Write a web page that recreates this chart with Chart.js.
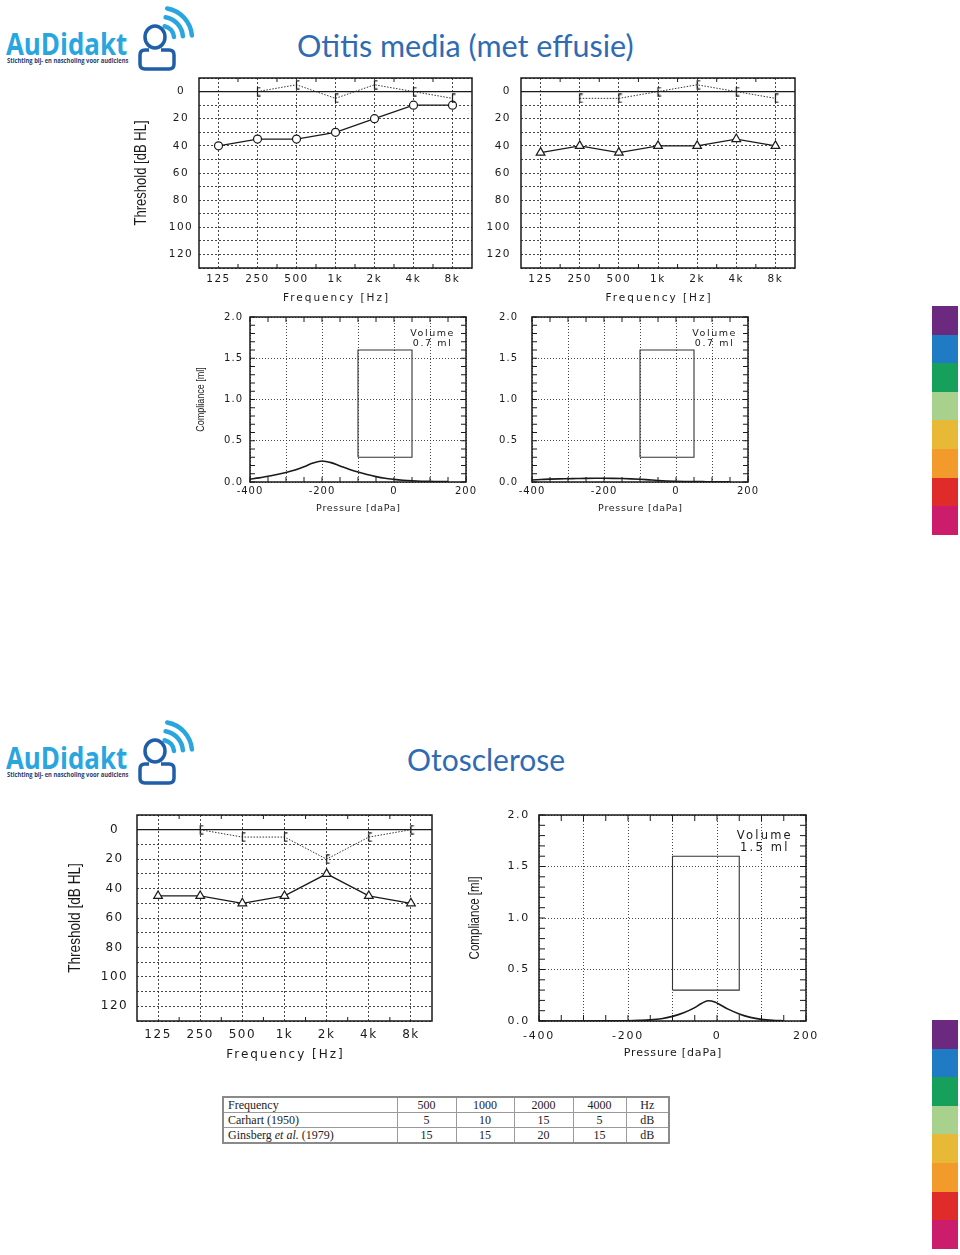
<!DOCTYPE html>
<html>
<head>
<meta charset="utf-8">
<script src="https://cdn.jsdelivr.net/npm/chart.js@4.4.0/dist/chart.umd.min.js"></script>
<style>
html, body { margin: 0; padding: 0; background: #fff; }
#page { position: relative; width: 960px; height: 1255px; overflow: hidden; }
#page canvas { position: absolute; }
.logo { position: absolute; left: 0; width: 200px; height: 75px; }
.logo .brand { position: absolute; left: 6px; top: 28px; font-family: 'Open Sans', sans-serif; font-weight: bold;
  font-size: 31px; line-height: 31px; color: #2aa6df; transform: scaleX(0.835); transform-origin: left top; white-space: nowrap; }
.logo .tag { position: absolute; left: 7px; top: 57px; font-family: 'Open Sans', sans-serif; font-weight: bold;
  font-size: 6.3px; line-height: 7px; color: #1d3c70; white-space: nowrap; transform: scaleX(0.92); transform-origin: left top; }
.logo svg { position: absolute; left: 0; top: 0; }
.slideTitle { position: absolute; font-family: Lato, 'Open Sans', sans-serif; color: #2f6bb3; font-size: 30.5px; line-height: 36px; white-space: nowrap; }
.bars { position: absolute; left: 932px; width: 26px; }
.bars div { height: 28.6px; }
#tbl { position: absolute; left: 222px; top: 1096px; width: 446px; table-layout: fixed; border-collapse: collapse; border: 2px solid #8a8a8a;
  font-family: 'Liberation Serif', serif; font-size: 12px; color: #222; }
#tbl td { box-sizing: border-box; border: 1px solid #9a9a9a; padding: 1px 4px 0 4px; height: 14.5px; line-height: 13px; text-align: center; overflow: hidden; white-space: nowrap; }
#tbl td:first-child { text-align: left; }
</style>
</head>
<body>
<div id="page">
  <div class="logo" id="logo1" style="top:0px"></div>
  <div class="slideTitle" style="left:297px; top:27px;">Otitis media (met effusie)</div>
  <div class="logo" id="logo2" style="top:714px"></div>
  <div class="slideTitle" style="left:407px; top:741px; font-size:30px;">Otosclerose</div>
  <div class="bars" id="bars1" style="top:306px"></div>
  <div class="bars" id="bars2" style="top:1020px"></div>
  <table id="tbl"></table>
</div>
<script>
// audiogram data (dB HL) – frequencies 125 Hz .. 8 kHz
const freqLabels = ['125', '250', '500', '1k', '2k', '4k', '8k'];
const hlLabels = [0, 20, 40, 60, 80, 100, 120];

// Otitis media: left ear (circles) and right ear (triangles)
const omLeftAir = [40, 35, 35, 30, 20, 10, 10];
const omLeftBone = [null, 0, -5, 5, -5, 0, 5];
const omRightAir = [45, 40, 45, 40, 40, 35, 40];
const omRightBone = [null, 5, 5, 0, -5, 0, 5];

// Otosclerose
const otoAir = [45, 45, 50, 45, 30, 45, 50];
const otoBone = [null, 0, 5, 5, 20, 5, 0];

// tympanograms (pressure daPa, compliance ml)
const pressureLabels = [-400, -200, 0, 200];
const complianceLabels = [0, 0.5, 1, 1.5, 2];
const omPressure = [-400, -375, -350, -325, -300, -275, -250, -225, -200, -175, -150, -125, -100, -75, -50, -25, 0, 25, 50, 75, 100, 125, 150];
const omLeftCompliance = [0.035, 0.05, 0.07, 0.09, 0.115, 0.145, 0.185, 0.23, 0.255, 0.235, 0.195, 0.155, 0.12, 0.09, 0.065, 0.045, 0.032, 0.022, 0.015, 0.01, 0.008, 0.005, 0.004];
const omRightCompliance = [0.025, 0.03, 0.035, 0.038, 0.04, 0.042, 0.044, 0.045, 0.045, 0.044, 0.042, 0.038, 0.033, 0.026, 0.019, 0.013, 0.009, 0.006, 0.005, 0.004, 0.003, 0.003, 0.002];
const otoPressure = [-400, -300, -250, -200, -175, -150, -125, -100, -75, -50, -35, -20, -5, 10, 25, 50, 75, 100, 125, 150];
const otoCompliance = [0, 0, 0.001, 0.003, 0.006, 0.011, 0.022, 0.045, 0.08, 0.13, 0.17, 0.197, 0.185, 0.15, 0.115, 0.068, 0.035, 0.016, 0.007, 0.003];
const normPressure = [-100, -100, 50, 50, -100];
const normCompliance = [0.3, 1.6, 1.6, 0.3, 0.3];
const volumes = [0.7, 0.7, 1.5];

// air-bone gap table
const tableFreqs = [500, 1000, 2000, 4000];
const carhart = [5, 10, 15, 5];
const ginsberg = [15, 15, 20, 15];

const stripeColors = ['#6b2a7f', '#1f7cc4', '#17a05b', '#a7d18c', '#e8b936', '#f29a2b', '#df2b2a', '#cc1c6c'];

const ink = '#1a1a1a';
const page = document.getElementById('page');

// ---------- decorations ----------
const logoHtml =
  '<svg width="200" height="75" viewBox="0 0 200 75">' +
  '<path d="M167.2 8.5 A30 30 0 0 1 191.9 35.4" fill="none" stroke="#2aa6df" stroke-width="4.5" stroke-linecap="round"/>' +
  '<path d="M165.6 17.3 A21 21 0 0 1 182.9 36.2" fill="none" stroke="#2aa6df" stroke-width="4.5" stroke-linecap="round"/>' +
  '<path d="M164.6 26.2 A12 12 0 0 1 174 37" fill="none" stroke="#2aa6df" stroke-width="4.5" stroke-linecap="round"/>' +
  '<ellipse cx="155" cy="37" rx="10" ry="11" fill="#fff" stroke="#1f5ea8" stroke-width="3.5"/>' +
  '<path d="M149 50 L145 50 Q140 50 140 55 L140 64 Q140 69 145 69 L169 69 Q174 69 174 64 L174 55 Q174 50 169 50 L161 50" fill="none" stroke="#1f5ea8" stroke-width="3.5" stroke-linejoin="round"/>' +
  '</svg>' +
  '<div class="brand">AuDidakt</div>' +
  '<div class="tag">Stichting bij- en nascholing voor audiciens</div>';
document.getElementById('logo1').innerHTML = logoHtml;
document.getElementById('logo2').innerHTML = logoHtml;

['bars1', 'bars2'].forEach(id => {
  const el = document.getElementById(id);
  stripeColors.forEach(c => {
    const d = document.createElement('div');
    d.style.background = c;
    el.appendChild(d);
  });
});

// table
const tbl = document.getElementById('tbl');
const colW = [174, 59, 58, 59, 53, 43];
function addRow(cells) {
  const tr = document.createElement('tr');
  cells.forEach((c, i) => {
    const td = document.createElement('td');
    td.innerHTML = c;
    td.style.width = colW[i] + 'px';
    tr.appendChild(td);
  });
  tbl.appendChild(tr);
}
addRow(['Frequency'].concat(tableFreqs.map(String), ['Hz']));
addRow(['Carhart (1950)'].concat(carhart.map(String), ['dB']));
addRow(['Ginsberg <i>et al.</i> (1979)'].concat(ginsberg.map(String), ['dB']));

// ---------- chart helpers ----------
function bracketMarker() {
  const c = document.createElement('canvas');
  c.width = 9; c.height = 10;
  const g = c.getContext('2d');
  g.strokeStyle = ink;
  g.lineWidth = 1.2;
  g.beginPath();
  g.moveTo(7.5, 0.8); g.lineTo(4.5, 0.8); g.lineTo(4.5, 9.2); g.lineTo(7.5, 9.2);
  g.stroke();
  return c;
}
const bracket = bracketMarker();

// draws frame, zero line, minor ticks, axis titles and volume note.
// y tick labels are drawn before the datasets (ticks.z 0), x tick labels after (ticks.z 1),
// so each axis can get its own letter spacing.
const paperPlugin = {
  id: 'paper',
  beforeDraw(chart, args, o) {
    chart.ctx.letterSpacing = (o.ySpacing || 0) + 'px';
  },
  beforeDatasetsDraw(chart, args, o) {
    const { ctx, chartArea: ar, scales: { x, y } } = chart;
    ctx.save();
    ctx.strokeStyle = ink;
    if (o.zeroLine) {
      const py = y.getPixelForValue(0);
      ctx.lineWidth = 1.2;
      ctx.beginPath(); ctx.moveTo(ar.left, py); ctx.lineTo(ar.right, py); ctx.stroke();
    }
    const L = o.tickLen || 5;
    const xs = [], ys = [];
    if (o.minorX === 'mid') {
      for (let i = 0; i < x.ticks.length - 1; i++) xs.push((x.getPixelForTick(i) + x.getPixelForTick(i + 1)) / 2);
    } else if (o.minorX) {
      for (let v = x.min; v <= x.max + 1e-6; v += o.minorX) xs.push(x.getPixelForValue(v));
    }
    if (o.minorY) {
      for (let v = y.min; v <= y.max + 1e-6; v += o.minorY) ys.push(y.getPixelForValue(v));
    }
    ctx.lineWidth = 1;
    ctx.beginPath();
    xs.forEach(px => { ctx.moveTo(px, ar.top); ctx.lineTo(px, ar.top + L); ctx.moveTo(px, ar.bottom); ctx.lineTo(px, ar.bottom - L); });
    ys.forEach(py => { ctx.moveTo(ar.left, py); ctx.lineTo(ar.left + L, py); ctx.moveTo(ar.right, py); ctx.lineTo(ar.right - L, py); });
    ctx.stroke();
    ctx.lineWidth = 1.5;
    ctx.strokeRect(ar.left, ar.top, ar.width, ar.height);
    ctx.restore();
  },
  afterDatasetsDraw(chart, args, o) {
    chart.ctx.letterSpacing = (o.xSpacing || 0) + 'px';
  },
  afterDraw(chart, args, o) {
    const { ctx, chartArea: ar, scales: { x, y } } = chart;
    ctx.save();
    ctx.fillStyle = ink;
    ctx.textAlign = 'center';
    ctx.textBaseline = 'middle';
    if (o.xTitle) {
      const t = o.xTitle;
      ctx.letterSpacing = t.spacing + 'px';
      ctx.font = t.size + "px 'DejaVu Sans'";
      ctx.fillText(t.text, (ar.left + ar.right) / 2 + t.spacing / 2, ar.bottom + t.offset);
    }
    if (o.yTitle) {
      const t = o.yTitle;
      ctx.save();
      ctx.letterSpacing = '0px';
      ctx.translate(ar.left - t.offset, (ar.top + ar.bottom) / 2);
      ctx.rotate(-Math.PI / 2);
      ctx.scale(0.82, 1);
      ctx.font = t.size + "px 'Liberation Sans'";
      ctx.fillText(t.text, 0, 0);
      ctx.restore();
    }
    if (o.note) {
      const n = o.note;
      ctx.letterSpacing = n.spacing + 'px';
      ctx.font = n.size + "px 'DejaVu Sans'";
      const px = x.getPixelForValue(n.x) + n.spacing / 2;
      const py = y.getPixelForValue(n.y);
      n.lines.forEach((s, i) => ctx.fillText(s, px, py + i * n.size * 1.05));
    }
    ctx.restore();
  }
};

function makeCanvas(box) {
  const c = document.createElement('canvas');
  c.width = box.w; c.height = box.h;
  c.style.left = box.x + 'px';
  c.style.top = box.y + 'px';
  page.appendChild(c);
  return c;
}

function fitLayout(box, area) {
  return {
    yWidth: area.l - box.x,
    xHeight: box.y + box.h - area.b,
    padding: { top: area.t - box.y, right: box.x + box.w - area.r, left: 0, bottom: 0 }
  };
}

function axisGrid(dash) {
  return {
    grid: { color: '#333', lineWidth: 0.9, drawTicks: false },
    border: { display: false, dash: dash }
  };
}

function audiogram(box, area, air, bone, marker, st) {
  const lay = fitLayout(box, area);
  return new Chart(makeCanvas(box), {
    type: 'line',
    data: {
      labels: freqLabels,
      datasets: [
        { data: bone, borderColor: '#333', borderWidth: 1, borderDash: [1.5, 1.5], pointStyle: bracket, pointRadius: 4, spanGaps: false, clip: false },
        { data: air, borderColor: ink, borderWidth: 1.3, pointStyle: marker, pointRadius: marker === 'triangle' ? 5 : 4,
          pointBackgroundColor: '#fff', pointBorderColor: ink, pointBorderWidth: 1.2, clip: false }
      ]
    },
    options: {
      responsive: false, animation: false, events: [],
      layout: { padding: lay.padding },
      plugins: {
        legend: { display: false }, tooltip: { enabled: false },
        paper: {
          ySpacing: st.ySpacing, xSpacing: st.xSpacing, zeroLine: true, minorX: 'mid', tickLen: 4,
          xTitle: { text: 'Frequency [Hz]', size: st.xTitleSize, spacing: st.xTitleSpacing, offset: st.xTitleOffset },
          yTitle: st.yTitleSize ? { text: 'Threshold [dB HL]', size: st.yTitleSize, offset: st.yTitleOffset } : null
        }
      },
      scales: {
        x: Object.assign(axisGrid([2, 2]), {
          type: 'category', offset: true,
          ticks: { z: 1, color: ink, font: { family: 'DejaVu Sans', size: st.xTickSize }, padding: st.xPad, maxRotation: 0, autoSkip: false },
          afterFit: s => { s.height = lay.xHeight; s.paddingLeft = 0; s.paddingRight = 0; }
        }),
        y: Object.assign(axisGrid([2, 2]), {
          type: 'linear', reverse: true, min: -10, max: 130,
          ticks: { stepSize: 10, autoSkip: false, color: ink, font: { family: 'DejaVu Sans', size: st.yTickSize },
            padding: st.yPad, crossAlign: st.yAlign, callback: v => hlLabels.includes(v) ? String(v) : '' },
          afterFit: s => { s.width = lay.yWidth; s.paddingTop = 0; s.paddingBottom = 0; }
        })
      }
    },
    plugins: [paperPlugin]
  });
}

function tympanogram(box, area, pressure, compliance, volume, st) {
  const lay = fitLayout(box, area);
  return new Chart(makeCanvas(box), {
    type: 'line',
    data: {
      datasets: [
        { data: normPressure.map((p, i) => ({ x: p, y: normCompliance[i] })), borderColor: '#333', borderWidth: 1.1, pointRadius: 0, tension: 0 },
        { data: pressure.map((p, i) => ({ x: p, y: compliance[i] })), borderColor: ink, borderWidth: 1.6, pointRadius: 0, cubicInterpolationMode: 'monotone' }
      ]
    },
    options: {
      responsive: false, animation: false, events: [],
      layout: { padding: lay.padding },
      plugins: {
        legend: { display: false }, tooltip: { enabled: false },
        paper: {
          ySpacing: st.tickSpacing, xSpacing: st.tickSpacing, minorX: 50, minorY: 0.1, tickLen: st.tickLen,
          xTitle: { text: 'Pressure [daPa]', size: st.xTitleSize, spacing: st.xTitleSpacing, offset: st.xTitleOffset },
          yTitle: st.yTitleSize ? { text: 'Compliance [ml]', size: st.yTitleSize, offset: st.yTitleOffset } : null,
          note: { lines: ['Volume', volume + ' ml'], x: 105, y: 1.8, size: st.noteSize, spacing: st.noteSpacing }
        }
      },
      scales: {
        x: Object.assign(axisGrid([1, 2]), {
          type: 'linear', min: -400, max: 200,
          ticks: { z: 1, stepSize: 100, autoSkip: false, maxRotation: 0, color: ink, font: { family: 'DejaVu Sans', size: st.tickSize },
            padding: st.xPad, callback: v => pressureLabels.includes(v) ? String(v) : '' },
          afterFit: s => { s.height = lay.xHeight; s.paddingLeft = 0; s.paddingRight = 0; }
        }),
        y: Object.assign(axisGrid([1, 2]), {
          type: 'linear', min: 0, max: 2,
          ticks: { stepSize: 0.5, autoSkip: false, color: ink, font: { family: 'DejaVu Sans', size: st.tickSize },
            padding: st.yPad, callback: v => complianceLabels.includes(v) ? v.toFixed(1) : '' },
          afterFit: s => { s.width = lay.yWidth; s.paddingTop = 0; s.paddingBottom = 0; }
        })
      }
    },
    plugins: [paperPlugin]
  });
}

// ---------- Otitis media ----------
const smallAudio = { xTickSize: 10.5, xSpacing: 1.5, yTickSize: 10.5, ySpacing: 1.5, xPad: 5,
  xTitleSize: 10.5, xTitleSpacing: 2, xTitleOffset: 30 };
audiogram({ x: 125, y: 70, w: 355, h: 240 }, { l: 199, t: 78, r: 472, b: 268 }, omLeftAir, omLeftBone, 'circle',
  Object.assign({ yPad: 8, yAlign: 'center', yTitleSize: 15.9, yTitleOffset: 57 }, smallAudio));
audiogram({ x: 480, y: 70, w: 325, h: 240 }, { l: 521, t: 78, r: 795, b: 268 }, omRightAir, omRightBone, 'triangle',
  Object.assign({ yPad: 10, yAlign: 'near' }, smallAudio));

const smallTymp = { tickSize: 10, tickSpacing: 1, xPad: 3, tickLen: 5, xTitleSize: 9.5, xTitleSpacing: 0.7, xTitleOffset: 27, noteSize: 9.5, noteSpacing: 1.6 };
tympanogram({ x: 180, y: 305, w: 300, h: 215 }, { l: 250, t: 317, r: 466, b: 482 }, omPressure, omLeftCompliance, volumes[0],
  Object.assign({ yPad: 7, yTitleSize: 11, yTitleOffset: 49 }, smallTymp));
tympanogram({ x: 495, y: 305, w: 265, h: 215 }, { l: 532, t: 317, r: 748, b: 482 }, omPressure, omRightCompliance, volumes[1],
  Object.assign({ yPad: 14 }, smallTymp));

// ---------- Otosclerose ----------
audiogram({ x: 20, y: 800, w: 430, h: 275 }, { l: 137, t: 815, r: 432, b: 1021 }, otoAir, otoBone, 'triangle',
  { xTickSize: 12, xSpacing: 1.5, yTickSize: 12, ySpacing: 1.5, xPad: 7, yPad: 11, yAlign: 'center',
    xTitleSize: 12, xTitleSpacing: 2, xTitleOffset: 34, yTitleSize: 16.6, yTitleOffset: 62 });
tympanogram({ x: 455, y: 800, w: 375, h: 275 }, { l: 539, t: 815, r: 806, b: 1021 }, otoPressure, otoCompliance, volumes[2],
  { tickSize: 11, tickSpacing: 1.7, xPad: 9, yPad: 9, tickLen: 6, xTitleSize: 11, xTitleSpacing: 0.85, xTitleOffset: 32,
    yTitleSize: 14.1, yTitleOffset: 64, noteSize: 11.5, noteSpacing: 2.2 });
</script>
</body>
</html>
